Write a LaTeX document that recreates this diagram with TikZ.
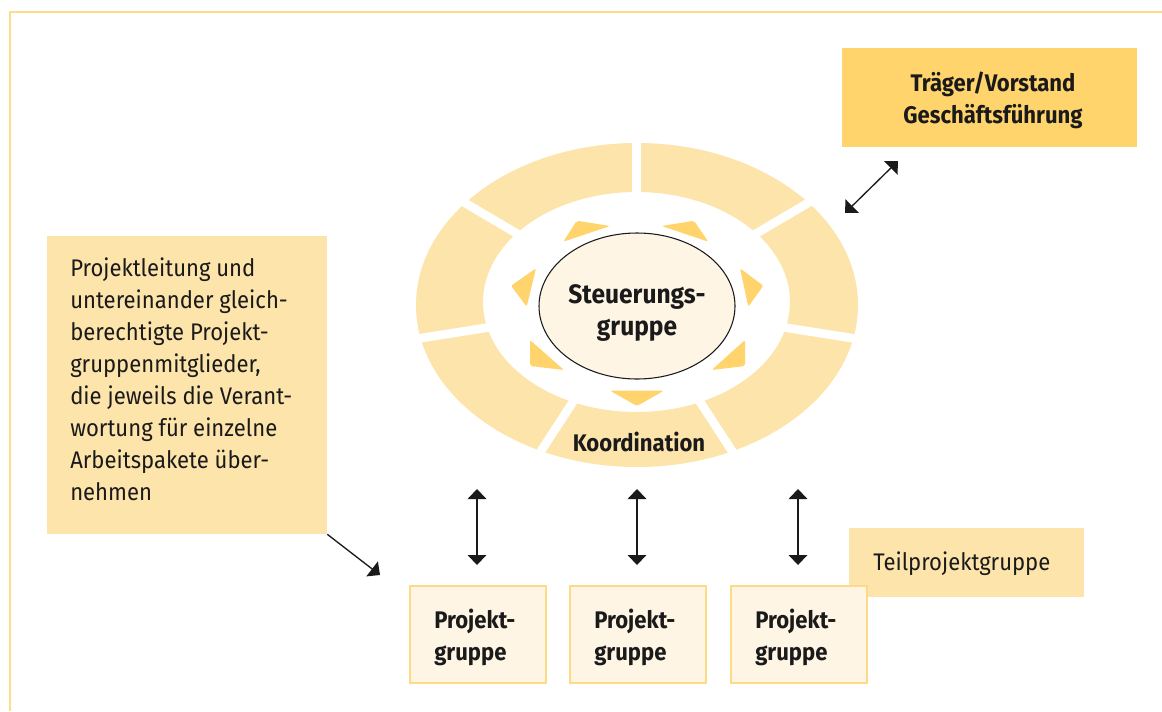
\documentclass[tikz,border=0pt]{standalone}
\usepackage{fontspec}
\setmainfont{Fira Sans}[FakeStretch=0.92]
\usetikzlibrary{arrows.meta,shapes.geometric}
\definecolor{ringfill}{HTML}{FDE4AB}
\definecolor{gold}{HTML}{FFD46C}
\definecolor{cream}{HTML}{FEF5E4}
\definecolor{creamline}{HTML}{FDDA86}
\definecolor{framecol}{HTML}{FDDC8A}
\definecolor{ink}{HTML}{1A1A1A}
\begin{document}
\begin{tikzpicture}[x=0.75pt,y=-0.75pt,
  font=\fontsize{18}{24}\selectfont, text=ink,
  conn/.style={draw=ink, line width=1pt},
  tipboth/.style={conn, {Triangle[length=7.5pt,width=14pt]}-{Triangle[length=7.5pt,width=14pt]}},
  tipend/.style={conn, -{Triangle[length=7.5pt,width=14pt]}},
  goldbox/.style={fill=gold, inner sep=0pt, align=center, font=\fontsize{18}{24}\selectfont\bfseries},
  notebox/.style={fill=ringfill, inner sep=0pt},
  groupbox/.style={fill=cream, draw=creamline, line width=1.2pt, inner sep=0pt,
    minimum width=102pt, minimum height=72.75pt},
  grouptext/.style={align=left, inner sep=0pt, font=\fontsize{18}{24}\selectfont\bfseries},
  segtri/.style={fill=gold, rounded corners=1.5pt}]
\useasboundingbox (0,0) rectangle (1162,711);

% outer frame (top and left edges)
\draw[framecol, line width=1.5pt] (10,711) -- (10,12) -- (1162,12);

% ring of seven segments
\fill[ringfill, even odd rule] (637,305) ellipse [x radius=221, y radius=162]
  (636.5,302) ellipse [x radius=153.5, y radius=110];
\foreach \a in {-90,-30.5,9,57,123,171,-149.5}
  \draw[white, line width=6.5pt] (636.5,304) -- ++(\a:270);

% triangles pointing to the segments
\fill[segtri] (563.3,241.7) -- (576.7,220.7) -- (610,226) -- cycle;
\fill[segtri] (661.7,226) -- (694,220.7) -- (708.3,241.7) -- cycle;
\fill[segtri] (740,268.3) -- (763.3,285.7) -- (748.3,306.7) -- cycle;
\fill[segtri] (745,340) -- (745,366) -- (711.7,370) -- cycle;
\fill[segtri] (610,390.7) -- (664,390.7) -- (637,406) -- cycle;
\fill[segtri] (530,340) -- (530,366) -- (564,370) -- cycle;
\fill[segtri] (536,268.3) -- (511,285.7) -- (526.7,306.7) -- cycle;

% steering group in the middle
\node[ellipse, draw=ink, line width=0.8pt, fill=cream, inner sep=0pt,
  minimum width=147pt, minimum height=109.5pt] (steuer) at (637,306) {};
\node[align=center, inner sep=0pt, font=\fontsize{20}{24}\selectfont\bfseries]
  (steuertext) at (637,313) {Steuerungs-\\gruppe};
\node[font=\fontsize{18}{24}\selectfont\bfseries] (koord) at (639,441.5) {Koordination};

% board box
\node[goldbox, minimum width=221.25pt, minimum height=74.25pt] (traeger) at (989.5,97.5) {};
\node[align=center, inner sep=0pt, font=\fontsize{18}{24}\selectfont\bfseries]
  (traegertext) at (993,100.5) {Träger/Vorstand\\Geschäftsführung};
\coordinate (trA) at (898,161);
\coordinate (trB) at (845,213);
\draw[tipboth] (trB) -- (trA);

% description box
\node[notebox, minimum width=210pt, minimum height=223.5pt] (desc) at (187,385) {};
\node[anchor=north west, inner sep=0pt, align=left] (desctext) at (70,258)
  {Projektleitung und\\untereinander gleich-\\berechtigte Projekt-\\gruppenmitglieder,\\die jeweils die Verant-\\wortung für einzelne\\Arbeitspakete über-\\nehmen};
\coordinate (descTip) at (380,575);
\draw[tipend] (desc.south east) -- (descTip);

% sub-project label
\node[notebox, minimum width=176.25pt, minimum height=51.75pt] (teil) at (966.5,562.5) {};
\node[anchor=base west, inner sep=0pt] (teiltext) at (873,570.7) {Teilprojektgruppe};

% project groups
\foreach \n/\x in {1/478,2/638,3/799}{
  \node[groupbox] (pg\n) at (\x,634.5) {};
  \node[grouptext, anchor=base west] (pgt\n) at (\x-44,660) {Projekt-\\gruppe};
}

\foreach \n/\x in {1/477,2/637,3/798}{
  \coordinate (up\n) at (\x,489);
  \coordinate (dn\n) at (\x,565);
  \draw[tipboth] (dn\n) -- (up\n);
}
\end{tikzpicture}
\end{document}
